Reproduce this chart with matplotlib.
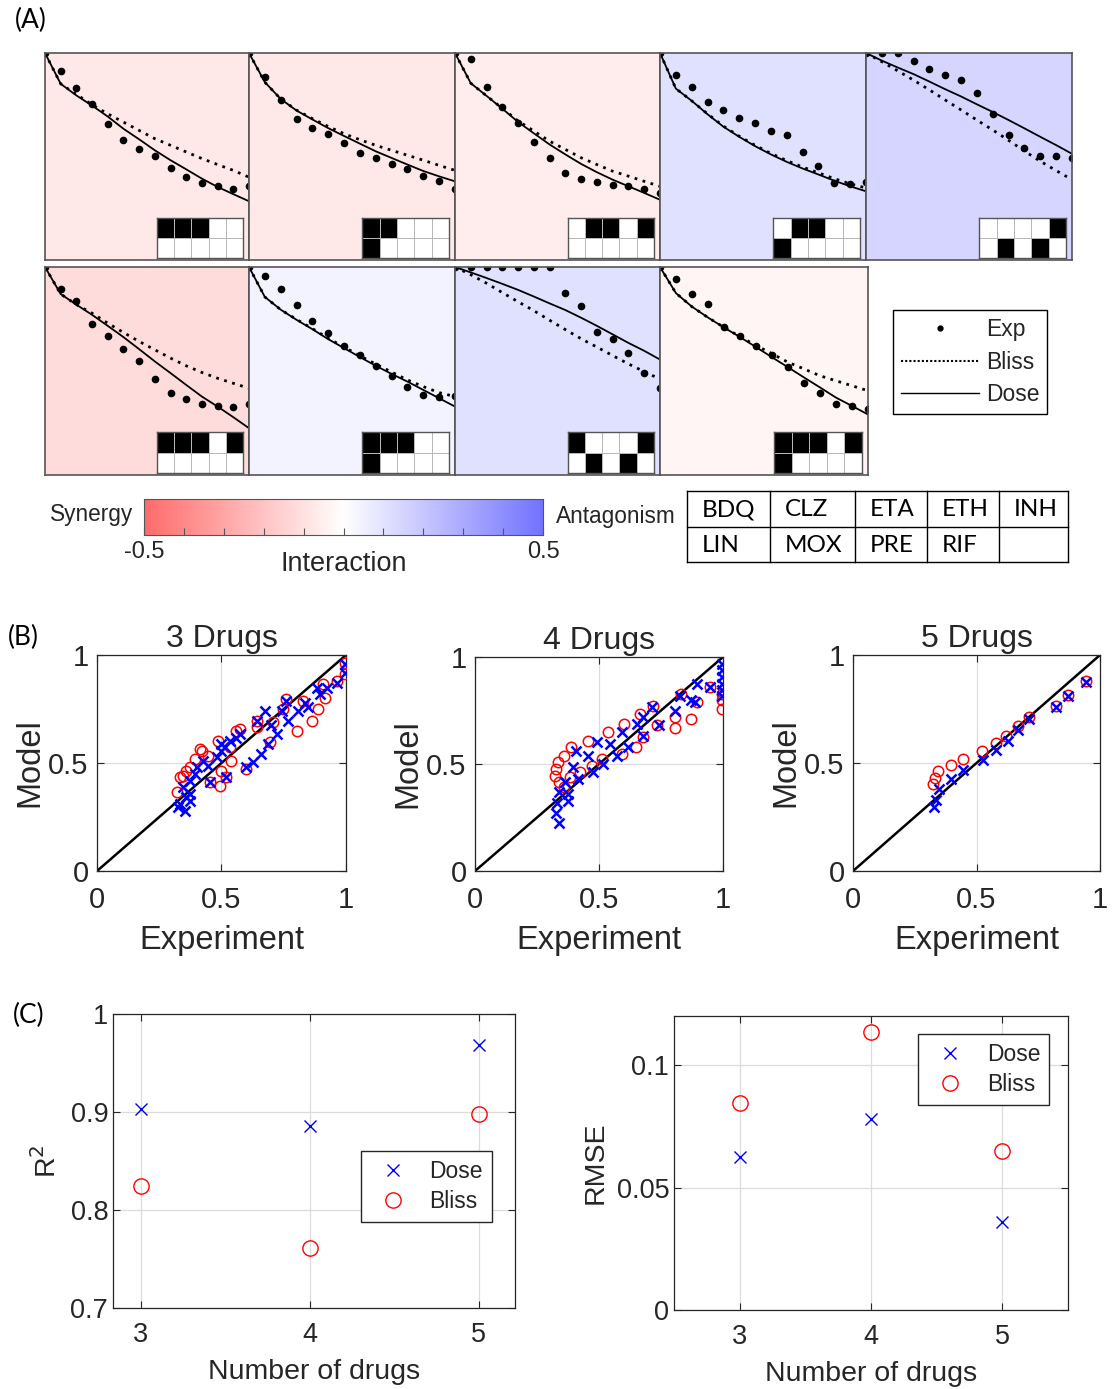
import numpy as np
import matplotlib.pyplot as plt
from matplotlib.colors import LinearSegmentedColormap
from matplotlib.lines import Line2D

# ---------------------------------------------------
# (A) dose-response curves, 14 dose steps per combination
doses = list(range(14))
exp_curves = [
    [1.0, 0.915, 0.833, 0.754, 0.655, 0.579, 0.538, 0.502, 0.443, 0.400, 0.374, 0.356, 0.345, 0.358],
    [1.0, 0.886, 0.774, 0.682, 0.639, 0.607, 0.565, 0.517, 0.491, 0.462, 0.438, 0.406, 0.380, 0.345],
    [1.0, 0.971, 0.838, 0.741, 0.663, 0.571, 0.494, 0.421, 0.393, 0.375, 0.362, 0.356, 0.343, 0.324],
    [1.0, 0.893, 0.838, 0.765, 0.723, 0.686, 0.663, 0.623, 0.605, 0.524, 0.456, 0.372, 0.369, 0.375],
    [1.0, 1.0, 1.0, 0.960, 0.924, 0.892, 0.869, 0.807, 0.706, 0.605, 0.542, 0.502, 0.502, 0.494],
    [1.0, 0.896, 0.838, 0.724, 0.669, 0.607, 0.546, 0.462, 0.396, 0.363, 0.339, 0.332, 0.329, 0.342],
    [1.0, 0.955, 0.896, 0.815, 0.742, 0.685, 0.621, 0.575, 0.522, 0.478, 0.425, 0.385, 0.377, 0.380],
    [1.0, 1.0, 1.0, 1.0, 1.0, 1.0, 1.0, 0.877, 0.812, 0.688, 0.655, 0.587, 0.490, 0.416],
    [1.0, 0.943, 0.869, 0.820, 0.712, 0.667, 0.621, 0.578, 0.521, 0.442, 0.393, 0.343, 0.332, 0.319],
]
dose_curves = [
    [1.0, 0.851, 0.795, 0.746, 0.693, 0.634, 0.583, 0.530, 0.482, 0.438, 0.393, 0.353, 0.318, 0.284],
    [1.0, 0.859, 0.778, 0.722, 0.679, 0.637, 0.599, 0.562, 0.525, 0.493, 0.461, 0.430, 0.404, 0.380],
    [1.0, 0.854, 0.793, 0.731, 0.667, 0.612, 0.558, 0.510, 0.464, 0.424, 0.388, 0.356, 0.324, 0.291],
    [1.0, 0.828, 0.769, 0.704, 0.644, 0.595, 0.550, 0.510, 0.474, 0.442, 0.413, 0.383, 0.356, 0.332],
    [1.0, 0.963, 0.930, 0.898, 0.862, 0.825, 0.790, 0.752, 0.715, 0.676, 0.636, 0.595, 0.555, 0.513],
    [1.0, 0.870, 0.819, 0.770, 0.717, 0.663, 0.605, 0.546, 0.490, 0.433, 0.377, 0.329, 0.278, 0.225],
    [1.0, 0.856, 0.795, 0.746, 0.701, 0.653, 0.610, 0.567, 0.525, 0.486, 0.449, 0.409, 0.369, 0.329],
    [1.0, 0.974, 0.947, 0.919, 0.890, 0.858, 0.825, 0.793, 0.756, 0.717, 0.676, 0.635, 0.597, 0.555],
    [1.0, 0.874, 0.809, 0.757, 0.709, 0.663, 0.615, 0.566, 0.518, 0.469, 0.421, 0.372, 0.332, 0.291],
]
bliss_curves = [
    [1.0, 0.851, 0.800, 0.750, 0.706, 0.666, 0.626, 0.586, 0.554, 0.522, 0.490, 0.461, 0.433, 0.400],
    [1.0, 0.859, 0.778, 0.724, 0.683, 0.645, 0.610, 0.581, 0.554, 0.530, 0.506, 0.482, 0.457, 0.433],
    [1.0, 0.854, 0.793, 0.733, 0.672, 0.623, 0.574, 0.534, 0.494, 0.461, 0.429, 0.405, 0.380, 0.356],
    [1.0, 0.828, 0.769, 0.706, 0.647, 0.598, 0.554, 0.515, 0.480, 0.449, 0.421, 0.393, 0.368, 0.348],
    [1.0, 0.958, 0.914, 0.869, 0.822, 0.773, 0.725, 0.676, 0.628, 0.578, 0.526, 0.477, 0.432, 0.388],
    [1.0, 0.870, 0.819, 0.778, 0.730, 0.685, 0.642, 0.602, 0.562, 0.525, 0.493, 0.465, 0.441, 0.417],
    [1.0, 0.856, 0.795, 0.748, 0.704, 0.657, 0.615, 0.573, 0.533, 0.495, 0.457, 0.425, 0.396, 0.377],
    [1.0, 0.963, 0.922, 0.877, 0.833, 0.790, 0.744, 0.699, 0.655, 0.615, 0.574, 0.534, 0.497, 0.461],
    [1.0, 0.874, 0.809, 0.757, 0.710, 0.665, 0.623, 0.583, 0.542, 0.510, 0.477, 0.453, 0.429, 0.405],
]
interaction = [-0.075, -0.075, -0.06, 0.11, 0.15, -0.12, 0.04, 0.11, -0.035]
drug_names = ['BDQ', 'CLZ', 'ETA', 'ETH', 'INH', 'LIN', 'MOX', 'PRE', 'RIF', '']
combos = [
    ['BDQ', 'CLZ', 'ETA'],
    ['BDQ', 'CLZ', 'LIN'],
    ['CLZ', 'ETA', 'INH'],
    ['CLZ', 'ETA', 'LIN'],
    ['INH', 'MOX', 'RIF'],
    ['BDQ', 'CLZ', 'ETA', 'INH'],
    ['BDQ', 'CLZ', 'ETA', 'LIN'],
    ['BDQ', 'INH', 'MOX', 'RIF'],
    ['BDQ', 'CLZ', 'ETA', 'INH', 'LIN'],
]

# (B) model vs experiment
exp3_dose = [0.326, 0.353, 0.332, 0.373, 0.359, 0.373, 0.346, 0.373, 0.393, 0.40, 0.426, 0.446, 0.453,
             0.48, 0.50, 0.50, 0.513, 0.52, 0.534, 0.56, 0.574, 0.60, 0.627, 0.641, 0.66, 0.676, 0.688,
             0.70, 0.721, 0.741, 0.761, 0.768, 0.808, 0.835, 0.849, 0.882, 0.895, 0.922, 0.962, 0.996, 0.996]
mod3_dose = [0.295, 0.28, 0.311, 0.326, 0.342, 0.357, 0.388, 0.418, 0.449, 0.48, 0.511, 0.488, 0.411,
             0.526, 0.557, 0.588, 0.572, 0.434, 0.603, 0.618, 0.634, 0.48, 0.503, 0.695, 0.542, 0.742, 0.588,
             0.675, 0.634, 0.742, 0.788, 0.695, 0.742, 0.78, 0.757, 0.849, 0.818, 0.849, 0.872, 0.918, 0.957]
exp3_bliss = [0.322, 0.332, 0.346, 0.359, 0.373, 0.393, 0.42, 0.446, 0.453, 0.487, 0.493, 0.50, 0.52,
              0.54, 0.56, 0.60, 0.641, 0.694, 0.708, 0.748, 0.761, 0.802, 0.829, 0.862, 0.889, 0.916,
              0.909, 0.962, 0.996, 0.996, 0.641, 0.574, 0.534, 0.413]
mod3_bliss = [0.365, 0.434, 0.442, 0.465, 0.48, 0.518, 0.557, 0.534, 0.411, 0.603, 0.395, 0.465, 0.434,
              0.511, 0.649, 0.474, 0.695, 0.596, 0.688, 0.749, 0.795, 0.649, 0.788, 0.695, 0.749, 0.803,
              0.865, 0.88, 0.911, 0.965, 0.665, 0.657, 0.572, 0.565]

exp4_dose = [0.338, 0.325, 0.33, 0.338, 0.375, 0.375, 0.361, 0.395, 0.415, 0.409, 0.456, 0.476, 0.49,
             0.517, 0.544, 0.571, 0.591, 0.618, 0.652, 0.679, 0.679, 0.713, 0.74, 0.808, 0.828, 0.869,
             0.889, 0.896, 0.947, 0.997, 0.997, 0.997, 0.997, 0.997, 0.997]
mod4_dose = [0.222, 0.269, 0.316, 0.367, 0.328, 0.359, 0.414, 0.484, 0.43, 0.563, 0.539, 0.461, 0.602,
             0.5, 0.594, 0.539, 0.648, 0.578, 0.688, 0.719, 0.633, 0.766, 0.68, 0.75, 0.82, 0.797,
             0.789, 0.875, 0.859, 0.969, 0.938, 0.906, 0.875, 0.844, 0.82]
exp4_bliss = [0.321, 0.325, 0.334, 0.359, 0.388, 0.456, 0.537, 0.601, 0.666, 0.717, 0.338, 0.382, 0.422,
              0.47, 0.514, 0.591, 0.65, 0.679, 0.733, 0.808, 0.808, 0.869, 0.896, 0.947, 0.997, 0.997,
              0.997, 0.831, 0.357]
mod4_bliss = [0.445, 0.477, 0.508, 0.539, 0.578, 0.609, 0.648, 0.688, 0.734, 0.773, 0.414, 0.438, 0.461,
              0.492, 0.523, 0.547, 0.581, 0.625, 0.68, 0.669, 0.719, 0.711, 0.789, 0.859, 0.758, 0.797,
              0.828, 0.825, 0.391]

exp5_dose = [0.327, 0.336, 0.347, 0.397, 0.447, 0.528, 0.58, 0.627, 0.668, 0.713, 0.821, 0.871, 0.943]
mod5_dose = [0.296, 0.33, 0.379, 0.427, 0.469, 0.515, 0.562, 0.604, 0.655, 0.706, 0.759, 0.81, 0.875]
exp5_bliss = [0.322, 0.333, 0.344, 0.397, 0.445, 0.523, 0.577, 0.621, 0.668, 0.713, 0.821, 0.871, 0.943]
mod5_bliss = [0.402, 0.43, 0.461, 0.489, 0.52, 0.554, 0.593, 0.627, 0.67, 0.712, 0.762, 0.813, 0.879]

# (C) summary statistics
n_drugs = [3, 4, 5]
r2_dose = [0.903, 0.886, 0.968]
r2_bliss = [0.825, 0.761, 0.898]
rmse_dose = [0.0624, 0.0779, 0.0358]
rmse_bliss = [0.0844, 0.1133, 0.0649]
# ---------------------------------------------------

W, H = 1118, 1389
txt = '#262626'
plt.rcParams['font.family'] = ['Liberation Sans', 'DejaVu Sans']
plt.rcParams['text.color'] = txt
plt.rcParams['axes.labelcolor'] = txt
plt.rcParams['xtick.color'] = txt
plt.rcParams['ytick.color'] = txt
calibri_like = ['Lato', 'DejaVu Sans']

fig = plt.figure(figsize=(W / 100, H / 100), dpi=100)


def add_ax(x0, y0, x1, y1):
    return fig.add_axes([x0 / W, 1 - y1 / H, (x1 - x0) / W, (y1 - y0) / H])


cmap = LinearSegmentedColormap.from_list('inter', [(1, 0.42, 0.42), (1, 1, 1), (0.45, 0.45, 1)])

# ---- panel A ----
row1 = [45, 249, 455, 660, 866, 1072]
row2 = [45, 249, 455, 660, 868]
boxes = [(row1[i], 53, row1[i + 1], 260) for i in range(5)] + \
        [(row2[i], 267, row2[i + 1], 475) for i in range(4)]

for k, (x0, y0, x1, y1) in enumerate(boxes):
    ax = add_ax(x0, y0, x1, y1)
    ax.set_facecolor(cmap((interaction[k] + 0.5)))
    ax.plot(doses, bliss_curves[k], color='k', ls=(0, (1, 2)), lw=2.0)
    ax.plot(doses, dose_curves[k], color='k', lw=1.3)
    ax.plot(doses, exp_curves[k], 'k.', ms=9)
    ax.set_xlim(0, 13)
    ax.set_ylim(0, 1)
    ax.set_xticks([])
    ax.set_yticks([])
    for s in ax.spines.values():
        s.set_color('#555555')
        s.set_linewidth(1.2)
    # drug combination grid
    grid = np.array([[1 if d in combos[k] else 0 for d in drug_names[:5]],
                     [1 if d in combos[k] else 0 for d in drug_names[5:]]])
    ins = ax.inset_axes([0.55, 0.008, 0.42, 0.197])
    ins.pcolormesh(grid, cmap='gray_r', vmin=0, vmax=1, edgecolors='#b8b8b8', linewidth=0.6)
    ins.set_xlim(0, 5)
    ins.set_ylim(2, 0)
    ins.set_xticks([])
    ins.set_yticks([])
    for s in ins.spines.values():
        s.set_color('#555555')
        s.set_linewidth(1.0)

handles = [Line2D([], [], color='k', marker='.', ls='none', ms=7),
           Line2D([], [], color='k', ls=(0, (1, 1)), lw=1.5),
           Line2D([], [], color='k', lw=1.0)]
fig.legend(handles, ['Exp', 'Bliss', 'Dose'], loc='upper left',
           bbox_to_anchor=(893 / W, 1 - 310 / H), borderaxespad=0, fontsize=16.5,
           frameon=True, fancybox=False, edgecolor='k', framealpha=1,
           handlelength=3.4, handletextpad=0.3, borderpad=0.35, labelspacing=0.42)

# colorbar
ax_cb = add_ax(144, 499, 543, 535)
grad = np.linspace(-0.5, 0.5, 256)
ax_cb.imshow(grad[None, :], extent=[-0.5, 0.5, 0, 1], aspect='auto', cmap=cmap, vmin=-0.5, vmax=0.5)
ax_cb.set_xticks(np.round(np.arange(-0.5, 0.51, 0.1), 1))
ax_cb.set_xticklabels(['-0.5', '', '', '', '', '', '', '', '', '', '0.5'])
ax_cb.set_yticks([])
ax_cb.tick_params(axis='x', direction='in', length=5, labelsize=17, pad=4, color='#555555')
ax_cb.set_xlabel('Interaction', fontsize=19.5, labelpad=-8)
for s in ax_cb.spines.values():
    s.set_color('#555555')
fig.text(92 / W, 1 - 514 / H, 'Synergy', fontsize=16.3, ha='center', va='center')
fig.text(616 / W, 1 - 516 / H, 'Antagonism', fontsize=16.3, ha='center', va='center')

# drug table
ax_tb = add_ax(687, 491, 1068, 562)
ax_tb.set_xlim(687, 1068)
ax_tb.set_ylim(562, 491)
ax_tb.axis('off')
cols = [687, 770, 855, 927, 999, 1068]
rows = [491, 527, 562]
for x in cols:
    ax_tb.plot([x, x], [rows[0], rows[-1]], color='k', lw=1.0, clip_on=False)
for y in rows:
    ax_tb.plot([cols[0], cols[-1]], [y, y], color='k', lw=1.0, clip_on=False)
for i, name in enumerate(drug_names):
    r, c = divmod(i, 5)
    ax_tb.text(cols[c] + 15, (rows[r] + rows[r + 1]) / 2 + 1, name, fontsize=17.5,
               family=calibri_like, color='k', ha='left', va='center')

fig.text(15 / W, 1 - 20 / H, '(A)', fontsize=19, family=calibri_like, color='k', va='center')
fig.text(8 / W, 1 - 637 / H, '(B)', fontsize=19, family=calibri_like, color='k', va='center')
fig.text(13 / W, 1 - 1015 / H, '(C)', fontsize=19, family=calibri_like, color='k', va='center')

# ---- panel B ----
b_boxes = [(97, 655, 346, 871), (475, 657, 723, 871), (853, 655, 1100, 871)]
b_data = [(exp3_dose, mod3_dose, exp3_bliss, mod3_bliss, '3 Drugs'),
          (exp4_dose, mod4_dose, exp4_bliss, mod4_bliss, '4 Drugs'),
          (exp5_dose, mod5_dose, exp5_bliss, mod5_bliss, '5 Drugs')]


def style_axes(ax, fs):
    for s in ax.spines.values():
        s.set_color(txt)
        s.set_linewidth(0.9)
    ax.tick_params(direction='in', length=5, top=True, right=True, labelsize=fs, width=0.8)
    ax.grid(True, color='#dcdcdc', lw=0.9)
    ax.set_axisbelow(True)


for box, (ed, md, eb, mb, title) in zip(b_boxes, b_data):
    ax = add_ax(*box)
    ax.plot([0, 1], [0, 1], color='k', lw=1.8, zorder=2)
    ax.plot(eb, mb, 'o', mfc='none', mec='r', ms=7.5, mew=1.1, zorder=3)
    ax.plot(ed, md, 'x', color='b', ms=7.5, mew=1.8, zorder=4)
    ax.set_xlim(0, 1)
    ax.set_ylim(0, 1)
    ax.set_xticks([0, 0.5, 1])
    ax.set_yticks([0, 0.5, 1])
    ax.set_xticklabels(['0', '0.5', '1'])
    ax.set_yticklabels(['0', '0.5', '1'])
    style_axes(ax, 21)
    ax.tick_params(axis='x', pad=11)
    ax.tick_params(axis='y', pad=6)
    ax.set_title(title, fontsize=23, pad=6)
    ax.set_xlabel('Experiment', fontsize=23.5, labelpad=8)
    ax.set_ylabel('Model', fontsize=23.5, labelpad=2)

# ---- panel C ----
ax1 = add_ax(113, 1014, 515, 1308)
ax1.plot(n_drugs, r2_dose, 'x', color='b', ms=9, mew=1.0, label='Dose')
ax1.plot(n_drugs, r2_bliss, 'o', mfc='none', mec='r', ms=11, mew=1.0, label='Bliss')
ax1.set_xlim(2.837, 5.213)
ax1.set_ylim(0.7, 1)
ax1.set_xticks(n_drugs)
ax1.set_yticks([0.7, 0.8, 0.9, 1])
ax1.set_yticklabels(['0.7', '0.8', '0.9', '1'])
style_axes(ax1, 19.5)
ax1.tick_params(axis='x', pad=10)
ax1.set_xlabel('Number of drugs', fontsize=20.5, labelpad=8)
ax1.set_ylabel('R$^2$', fontsize=20.5, labelpad=6)
ax1.legend(loc='upper right', bbox_to_anchor=(0.943, 0.534), borderaxespad=0, fontsize=16.5,
           fancybox=False, edgecolor='#262626', framealpha=1, handlelength=2.0,
           handletextpad=0.6, borderpad=0.4, labelspacing=0.3)

ax2 = add_ax(674, 1016, 1068, 1310)
ax2.plot(n_drugs, rmse_dose, 'x', color='b', ms=9, mew=1.0, label='Dose')
ax2.plot(n_drugs, rmse_bliss, 'o', mfc='none', mec='r', ms=11, mew=1.0, label='Bliss')
ax2.set_xlim(2.5, 5.5)
ax2.set_ylim(0, 0.12)
ax2.set_xticks(n_drugs)
ax2.set_yticks([0, 0.05, 0.1])
ax2.set_yticklabels(['0', '0.05', '0.1'])
style_axes(ax2, 19.5)
ax2.tick_params(axis='x', pad=10)
ax2.set_xlabel('Number of drugs', fontsize=20.5, labelpad=8)
ax2.set_ylabel('RMSE', fontsize=20.5, labelpad=6)
ax2.legend(loc='upper right', bbox_to_anchor=(0.953, 0.938), borderaxespad=0, fontsize=16.5,
           fancybox=False, edgecolor='#262626', framealpha=1, handlelength=2.0,
           handletextpad=0.6, borderpad=0.4, labelspacing=0.3)

fig.savefig('out.png', dpi=100)
